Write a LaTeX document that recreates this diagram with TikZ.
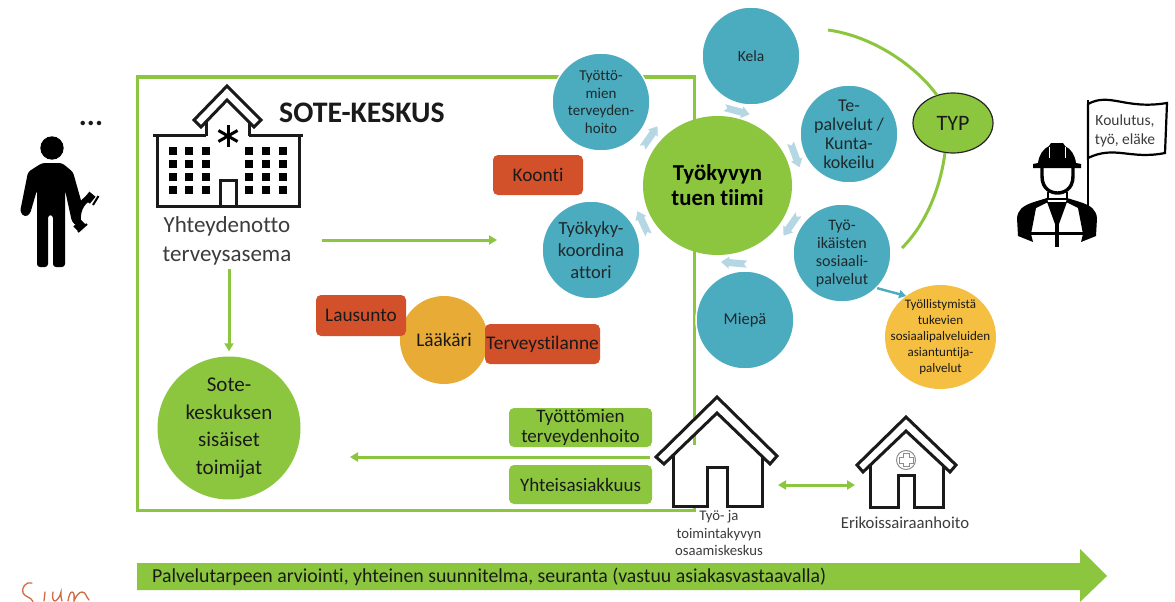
\documentclass[tikz,border=0pt]{standalone}
\usepackage{fontspec}
\setmainfont{Carlito}[Ligatures=CommonOff]
\usetikzlibrary{arrows.meta,shapes.geometric}
\definecolor{grn}{HTML}{8CC63F}
\definecolor{teal1}{HTML}{4BABBF}
\definecolor{redo}{HTML}{D2512B}
\definecolor{oran}{HTML}{E8AB35}
\definecolor{yell}{HTML}{F5BF42}
\definecolor{lblue}{HTML}{B4D7E3}
\definecolor{ink}{HTML}{1A1A1A}
\definecolor{hand}{HTML}{CF6A45}
\tikzset{
  tealc/.style={circle,fill=teal1,draw=white,line width=1.5pt,minimum size=98pt,inner sep=0pt,align=center,text=ink!90!teal1,font=\fontsize{15.5}{18}\selectfont},
  grnarrow/.style={draw=grn,line width=3pt,-{Triangle[length=8pt,width=9pt]}},
  redbox/.style={rectangle,rounded corners=5pt,fill=redo,inner sep=0pt,text=ink,font=\fontsize{19.3}{22}\selectfont},
  grnbox/.style={rectangle,rounded corners=5pt,fill=grn,inner sep=0pt,minimum width=143pt,minimum height=39pt,align=center,text=ink,font=\fontsize{19}{20}\selectfont},
  outl/.style={draw=ink,line width=3pt,fill=white,line join=miter},
  lbl/.style={text=ink!85,align=center,inner sep=0pt},
  framegrn/.style={draw=grn,line width=3pt},
}
\newcommand{\blockarr}[3]{%
  \fill[lblue,shift={(#1,#2)},rotate=-#3] (-13,-3.5)--(5,-3.5)--(5,-6)--(13,0)--(5,6)--(5,3.5)--(-13,3.5)--(-10,0)--cycle;}
\begin{document}
\begin{tikzpicture}[x=1pt,y=-1pt]
\useasboundingbox (0,0) rectangle (1175,602);
\fill[white] (0,0) rectangle (1175,602);
% frame
\draw[framegrn] (137,77) rectangle (694,510);
% bottom band
\fill[grn] (137,563)--(1080,563)--(1080,549)--(1107,576)--(1080,602)--(1080,590)--(137,590)--cycle;
\node[anchor=west,inner sep=0pt,text=ink,font=\fontsize{19.8}{22}\selectfont] (band) at (152,577) {Palvelutarpeen arviointi, yhteinen suunnitelma, seuranta (vastuu asiakasvastaavalla)};
% handwriting
\draw[hand,line width=1.3pt,line cap=round] (32,583) .. controls (26,581) and (21,588) .. (23,593) .. controls (25,597) and (31,597) .. (33,601.5);
\draw[hand,line width=1.3pt,line cap=round] (45,592)--(44,601);
\draw[hand,line width=1.3pt,line cap=round] (53,592) .. controls (52,598) and (53,601) .. (55,601) .. controls (58,600) and (60,596) .. (61,592) .. controls (61,596) and (61,599) .. (62,601);
\draw[hand,line width=1.3pt,line cap=round] (68,601) .. controls (69,596) and (70,592) .. (72,592) .. controls (75,592) and (74,598) .. (74,601) .. controls (76,596) and (79,592) .. (82,592) .. controls (86,592) and (86,597) .. (89,600);
% person
\fill[black] (52,148) circle (11.7);
\fill[black,rounded corners=3pt] (42,163)--(62,163)--(73,172)--(82,204)--(77,226)--(72,222)--(65,190)--(65,267)--(53,267)--(53,215)--(48,215)--(48,267)--(37,267)--(37,190)--(30,214)--(25,217)--(20,212)--(28,172)--cycle;
\draw[black,line width=6pt] (90,198) .. controls (82,200) and (75,213) .. (79,225);
\fill[black,rotate around={50:(90,198)}] (85.5,193.5) rectangle (94.5,201.5);
\fill[black,rotate around={45:(79,225)}] (74,222) rectangle (84,229);
\draw[black,line width=2pt] (93,205)--(98.5,196);
\draw[black,line width=2pt] (78,232)--(87,224);
\node[anchor=base,font=\bfseries\fontsize{30}{30}\selectfont,text=ink,inner sep=0pt] (dots) at (91,125.5) {...};
% hospital
\path[outl] (157,135) -- (157,206) -- (299,206) -- (299,135);
\draw[draw=ink,line width=3pt] (153,135)--(206,135);
\draw[draw=ink,line width=3pt] (249,135)--(303,135);
\draw[draw=ink,line width=3pt] (206,136)--(206,118);
\draw[draw=ink,line width=3pt] (249,136)--(249,118);
\path[outl] (227,86)--(261,120)--(254,127)--(227,100)--(201,127)--(194,120)--cycle;
\foreach \xx in {173,189,206,249,266,283}{\foreach \yy in {151,164,177,190}{\fill[black] (\xx-3.7,\yy-3.7) rectangle (\xx+3.7,\yy+3.7);}}
\draw[draw=ink,line width=3pt] (220,206)--(220,180)--(236,180)--(236,206);
\foreach \aa in {0,60,120}{\draw[black,line width=3pt,rotate around={\aa:(228,136)}] (228,125)--(228,147);}
\node[anchor=west,inner sep=0pt,text=ink,font=\bfseries\fontsize{29.8}{30}\selectfont] (sote) at (279,113) {SOTE-KESKUS};
\node[lbl,font=\fontsize{23}{29}\selectfont] (yht) at (227,241) {Yhteydenotto\\terveysasema};
% green arrows
\coordinate (a1s) at (322,240);\coordinate (a1e) at (497,240);
\draw[grnarrow] (a1s)--(a1e);
\coordinate (a3s) at (650,457);\coordinate (a3e) at (350,457);
\coordinate (a4s) at (778,485);\coordinate (a4e) at (855,485);
% sote circle
\node[circle,fill=grn,minimum size=143pt,inner sep=0pt,align=center,text=ink,font=\fontsize{21}{27.5}\selectfont] (sisa) at (229,428) {Sote-\\keskuksen\\sisäiset\\toimijat};
\draw[grnarrow,shorten >=5pt,shorten <=3pt] (yht.south -| sisa.north) -- (sisa.north);
\draw[grnarrow] (a3s)--(a3e);
% boxes
\node[redbox,minimum width=90pt,minimum height=40pt] (koonti) at (538,175) {Koonti};
\node[circle,fill=oran,minimum size=88pt,inner sep=0pt,text=ink,font=\fontsize{19.3}{22}\selectfont] (laak) at (444,340) {Lääkäri};
\node[redbox,minimum width=90pt,minimum height=41pt] (laus) at (361,315.5) {Lausunto};
\node[redbox,minimum width=115pt,minimum height=40pt] (terv) at (542.5,344) {Terveystilanne};
\node[grnbox] (gb1) at (580.5,427.5) {Työttömien\\terveydenhoito};
\node[grnbox] (gb2) at (580.5,484.5) {Yhteisasiakkuus};
% team
\node[ellipse,fill=grn,minimum width=149pt,minimum height=139pt,inner sep=0pt,align=center,text=black,font=\bfseries\fontsize{22.8}{25}\selectfont] (tiimi) at (717.5,185.5) {Työkyvyn\\tuen tiimi};
\node[tealc] (kela) at (751,56) {Kela};
\node[tealc,font=\fontsize{18}{19}\selectfont] (te) at (849,134) {Te-\\palvelut /\\Kunta-\\kokeilu};
\node[tealc,font=\fontsize{16}{18}\selectfont] (tyoik) at (842,253) {Työ-\\ikäisten\\sosiaali-\\palvelut};
\node[tealc,font=\fontsize{16.5}{18}\selectfont] (miepa) at (745,320) {Miepä};
\node[tealc,font=\fontsize{18.5}{22}\selectfont] (koord) at (591,250) {Työkyky-\\koordina\\attori};
\node[tealc,font=\fontsize{15}{17.5}\selectfont] (tyott) at (601,102) {Työttö-\\mien\\terveyden-\\hoito};
\blockarr{737}{111}{15}
\blockarr{795}{155}{70}
\blockarr{791}{225}{125}
\blockarr{734}{263}{185}
\blockarr{643}{223}{245}
\blockarr{650}{137}{305}
% yellow
\node[ellipse,fill=yell,minimum width=111pt,minimum height=104pt,inner sep=0pt] (tyoll) at (940.5,337) {};
\node[inner sep=0pt,align=center,text=ink,font=\fontsize{13}{16}\selectfont] (tyollt) at (tyoll) {Työllistymistä\\tukevien\\sosiaalipalveluiden\\asiantuntija-\\palvelut};
\draw[-{Triangle[length=7pt,width=8pt]},teal1,line width=2.4pt] (tyoik.-45)--(tyoll.130);
% TYP
\node[ellipse,fill=grn,draw=black!85,line width=1.2pt,minimum width=80pt,minimum height=60pt,inner sep=0pt,text=ink,font=\fontsize{22}{24}\selectfont] (typ) at (953,123) {TYP};
\coordinate (tyA) at (828,30);\coordinate (tyB) at (902,248);
\draw[grn,line width=3pt] (tyA) .. controls (872,36) and (915,65) .. (typ.120);
\draw[grn,line width=3pt] (typ.-105) .. controls (940,190) and (925,225) .. (tyB);
% houses
\path[outl] (673,445)--(673,506)--(707,506)--(707,467)--(727,467)--(727,506)--(762,506)--(762,445);
\path[outl] (717,397)--(777,456)--(770,464)--(717,413)--(664,464)--(656,457)--cycle;
\path[outl] (870,455)--(870,507)--(898,507)--(898,475)--(914,475)--(914,507)--(943,507)--(943,455);
\path[outl] (906,417)--(956,465)--(950,472)--(906,431)--(863,472)--(857,465)--cycle;
\draw[black!45,line width=1pt] (906,460) circle (9.5);
\draw[black!45,line width=1pt] (903,453.5)--(909,453.5)--(909,457)--(913,457)--(913,463)--(909,463)--(909,466.5)--(903,466.5)--(903,463)--(899,463)--(899,457)--(903,457)--cycle;
\draw[grn,line width=3pt,{Triangle[length=8pt,width=9pt]}-{Triangle[length=8pt,width=9pt]}] (a4s)--(a4e);
\node[lbl,font=\fontsize{14.7}{17.3}\selectfont] (tk) at (719,533) {Työ- ja\\toimintakyvyn\\osaamiskeskus};
\node[lbl,font=\fontsize{16.7}{18}\selectfont] (erik) at (905,523) {Erikoissairaanhoito};
% worker
\fill[black] (1033,164) -- (1038,163) .. controls (1039,155) and (1043,149) .. (1049,146) -- (1051,143) -- (1063,143) -- (1065,146) .. controls (1071,149) and (1075,155) .. (1076,163) -- (1081,164) -- (1081,168) -- (1033,168) -- cycle;
\draw[white,line width=0.8pt] (1049,147)--(1049,158);
\draw[white,line width=0.8pt] (1065,147)--(1065,158);
\draw[black,line width=3.4pt] (1042,168) -- (1042,176) .. controls (1042,190) and (1052,193) .. (1057.5,193) .. controls (1063,193) and (1073,190) .. (1073,176) -- (1073,168);
\draw[black,line width=2.4pt] (1048,192)--(1048,199)--(1067,199)--(1067,192);
\fill[black] (1017,218) .. controls (1018,210) and (1022,206) .. (1034,202) -- (1047,198) -- (1048,202) -- (1036,208) -- (1031,234) -- (1033,242) -- (1018,236) -- cycle;
\fill[black] (1097,218) .. controls (1096,210) and (1092,206) .. (1080,202) -- (1067,198) -- (1066,202) -- (1078,208) -- (1083,234) -- (1081,242) -- (1096,236) -- cycle;
\fill[black] (1047,202) -- (1067,202) -- (1059,224) -- (1055,224) -- cycle;
\draw[black,line width=3.6pt] (1057,220)--(1057,247);
\draw[black,line width=2.6pt] (1030,233.5)--(1084,233.5);
\draw[black,line width=2.6pt] (1088,100)--(1088,207);
\draw[black,line width=2.2pt,fill=white] (1088,104) .. controls (1110,92) and (1125,110) .. (1167,103) -- (1165,153) .. controls (1130,160) and (1115,145) .. (1088,158) -- cycle;
\node[lbl,font=\fontsize{15.5}{18.5}\selectfont] (flag) at (1125,131) {Koulutus,\\työ, eläke};
\end{tikzpicture}
\end{document}
